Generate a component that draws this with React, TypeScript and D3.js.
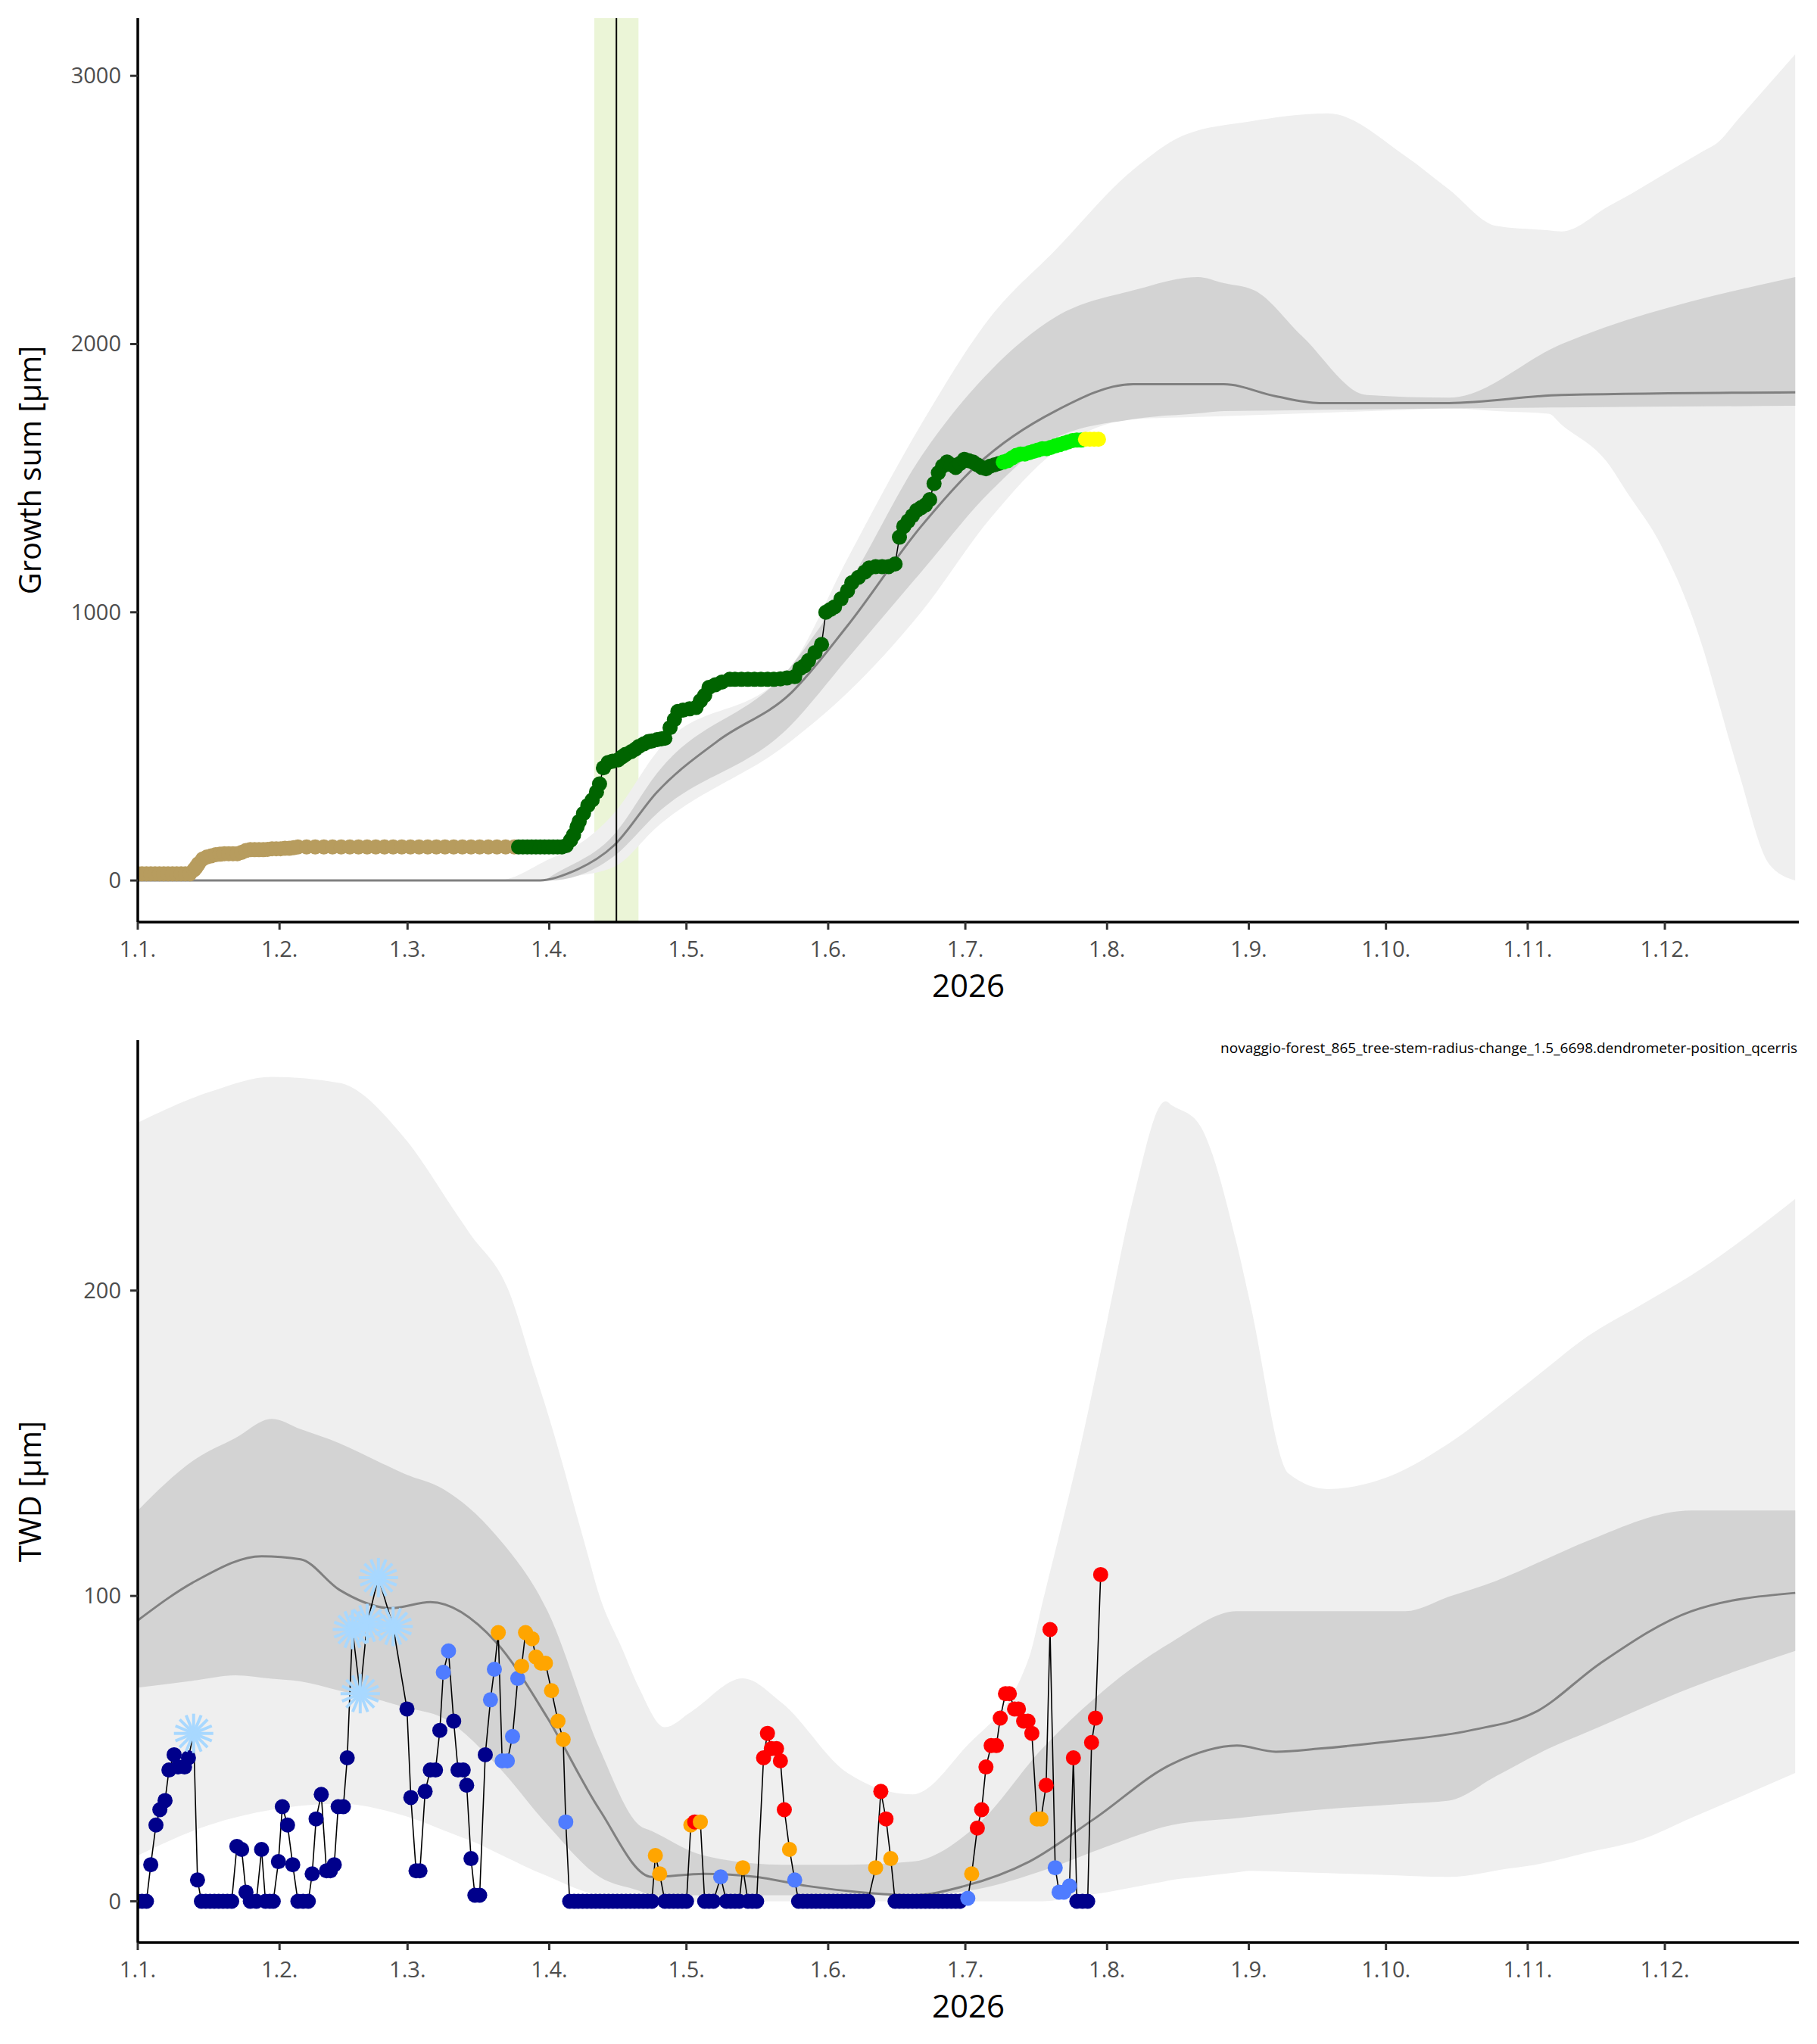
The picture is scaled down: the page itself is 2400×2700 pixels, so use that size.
import React from "react";
import * as d3 from "d3";

const W = 2400, H = 2700;
const monthTicks = [0, 31, 59, 90, 120, 151, 181, 212, 243, 273, 304, 334];
const monthLabels = ["1.1.", "1.2.", "1.3.", "1.4.", "1.5.", "1.6.", "1.7.", "1.8.", "1.9.", "1.10.", "1.11.", "1.12."];
const growthTicks = [0, 1000, 2000, 3000];
const twdTicks = [0, 100, 200];
const yearLabel = "2026";
const subtitle = "novaggio-forest_865_tree-stem-radius-change_1.5_6698.dendrometer-position_qcerris";

// the time values below were read in a unit where 383 units = 362.5 days (1 unit = 0.9465 day)
const UNIT_DAYS = 0.9465;

// growth sum points [t, value]
const growthPoints: [number, number][] = [
  [0,25],[1,25],[2,25],[3,25],[4,25],[5,25],[6,25],[7,25],[8,25],[9,25],[10,25],[11,25],[12,25],[13,40],[13.5,50],[14,62],[15,80],[16,88],[17,92],[18,96],[19,98],[20,100],[21,100],[22,100],[23,100],[24,105],[25,112],[26,115],[27,115],[28,115],[29,115],[30,116],[31,118],[32,118],[33,118],[34,120],[35,120],[36,122],[37,125],
  [39,125],[41,125],[43,125],[45,125],[47,125],[49,125],[51,125],[53,125],[55,125],[57,125],[59,125],[61,125],[63,125],[65,125],[67,125],[69,125],[71,125],[73,125],[75,125],[77,125],[79,125],[81,125],[83,125],[85,125],[87,125],
  [88,125],[89,125],[90,125],[91,125],[92,125],[93,125],[94,125],[95,125],[96,125],[97,125],[98,125],[99,130],[100,150],[100.7,170],[101.5,200],[102,220],[103,250],[104,280],[105,300],[106,330],[106.7,360],[107.6,420],[108.7,440],[109.7,445],[111,450],[112,462],[112.7,470],[114,480],[115,490],[115.8,500],[117,510],[118,518],[118.8,520],[120,525],[121,528],[121.8,530],[123,570],[124,600],[124.8,630],[126,635],[127.5,640],[129,645],[130,670],[131,690],[132,720],[133.5,730],[135,740],[136.8,750],
  [138,750],[139.5,750],[141,750],[142.5,750],[144,750],[145.5,750],[147,750],[148.5,752],[150,755],[151.8,760],[153,790],[154,800],[155,820],[156.5,850],[158,880],[159,1000],[160,1010],[161,1020],[162.5,1050],[164,1080],[165,1110],[166.5,1130],[168,1150],[169,1165],[170.5,1170],[172,1170],[173.5,1170],[175,1180],[176,1280],[177,1320],[178,1340],[179,1360],[180,1380],[181,1390],[182,1400],[183,1420],[184,1480],[185,1520],[186,1545],[187,1560],[188,1550],[189,1540],[190,1555],[191,1570],[192,1565],[193,1560],[194,1550],[195,1540],[196,1535],[197,1545],[198,1550],[199,1555],
  [200,1560],[201,1565],[202,1575],[203,1585],[204,1590],[205,1590],[206,1595],[207,1600],[208,1605],[209,1610],[210,1610],[211,1615],[212,1620],[213,1625],[214,1630],[215,1635],[216,1640],[217,1642],[218,1642],[219,1645],[220,1645],[221,1645],[222,1645]
];
const stageBreaks = [88, 200, 219];
const stageColors = ["#b79c5e", "#006400", "#00f000", "#ffff00"];

const gMedian: [number, number][] = [[0,0],[93,0],[100,30],[110,130],[120,330],[134,520],[151,700],[164,950],[181,1320],[194,1550],[212,1750],[230,1850],[251,1850],[263,1805],[273,1780],[303,1780],[329,1810],[383,1820]];
const gInnerUp: [number, number][] = [[0,0],[94,0],[110,170],[120,400],[151,800],[164,1100],[181,1580],[197,1900],[212,2100],[230,2200],[245,2250],[258,2200],[269,2030],[284,1810],[303,1800],[329,2000],[383,2250]];
const gInnerLo: [number, number][] = [[0,0],[95,0],[110,90],[120,250],[151,580],[181,1150],[197,1450],[212,1650],[230,1720],[251,1750],[303,1760],[383,1770]];
const gOuterUp: [number, number][] = [[0,0],[83,0],[98,100],[110,250],[120,480],[151,800],[164,1200],[181,1700],[197,2100],[212,2350],[230,2650],[242,2780],[257,2830],[275,2860],[293,2700],[314,2440],[329,2420],[344,2550],[365,2750],[383,3080]];
const gOuterLo: [number, number][] = [[0,0],[96,0],[110,50],[120,200],[151,520],[164,700],[181,1000],[197,1350],[212,1600],[230,1720],[303,1760],[326,1740],[340,1550],[352,1250],[362,850],[370,400],[377,60],[383,0]];
const phenoBand = [105.5, 115.7];
const phenoLine = 110.6;

// TWD points [t, value, category] n=navy b=blue o=orange r=red s=frost
const twdPoints: [number, number, string][] = [
  [0,0,"n"],[1,0,"n"],[2,0,"n"],[3,12,"n"],[4.2,25,"n"],[5.1,30,"n"],[6.3,33,"n"],[7.2,43,"n"],[8.4,48,"n"],[9.3,44,"n"],[10.8,44,"n"],[11.7,47,"n"],[12.9,55,"s"],[13.8,7,"n"],
  [22.9,18,"n"],[24,17,"n"],[25,3,"n"],[26,0,"n"],[27.4,0,"n"],[28.6,17,"n"],[29.5,0,"n"],[30.5,0,"n"],[31.3,0,"n"],[32.5,13,"n"],[33.4,31,"n"],[34.6,25,"n"],[35.8,12,"n"],[37,0,"n"],[38.2,0,"n"],[39.4,0,"n"],[40.3,9,"n"],[41.2,27,"n"],[42.4,35,"n"],[43.6,10,"n"],[44.5,10,"n"],[45.4,12,"n"],[46.3,31,"n"],[47.5,31,"n"],[48.4,47,"n"],
  [49.6,89,"s"],[51.4,68,"s"],[53,91,"s"],[55.6,106,"s"],[59,90,"s"],[62.2,63,"n"],[63.1,34,"n"],[64.3,10,"n"],[65.2,10,"n"],[66.4,36,"n"],[67.6,43,"n"],[68.8,43,"n"],[69.8,56,"n"],[70.6,75,"b"],[71.8,82,"b"],[73,59,"n"],[74,43,"n"],[75.2,43,"n"],[76,38,"n"],[77,14,"n"],[77.9,2,"n"],[79,2,"n"],[80.3,48,"n"],[81.5,66,"b"],[82.4,76,"b"],[83.3,88,"o"],[84.2,46,"b"],[85.4,46,"b"],[86.6,54,"b"],[87.8,73,"b"],[88.7,77,"o"],[89.6,88,"o"],[91.1,86,"o"],[92,80,"o"],[93.2,78,"o"],[94.2,78,"o"],[95.6,69,"o"],[97.1,59,"o"],[98.3,53,"o"],[98.9,26,"b"],
  [119.6,15,"o"],[120.6,9,"o"],[127.8,25,"o"],[128.7,26,"r"],[130,26,"o"],[134.7,8,"b"],[139.8,11,"o"],[144.6,47,"r"],[145.5,55,"r"],[146.4,50,"r"],[147.6,50,"r"],[148.5,46,"r"],[149.4,30,"r"],[150.6,17,"o"],[151.8,7,"b"],
  [170.5,11,"o"],[171.7,36,"r"],[172.9,27,"r"],[174,14,"o"],[191.8,1,"b"],[192.7,9,"o"],[194,24,"r"],[195,30,"r"],[196,44,"r"],[197.2,51,"r"],[198.4,51,"r"],[199.3,60,"r"],[200.5,68,"r"],[201.4,68,"r"],[202.6,63,"r"],[203.5,63,"r"],[204.7,59,"r"],[205.7,59,"r"],[206.6,55,"r"],[207.8,27,"o"],[208.7,27,"o"],[209.9,38,"r"],[210.8,89,"r"],[212,11,"b"],[212.9,3,"b"],[214,3,"b"],[215.3,5,"b"],[216.2,47,"r"],[217,0,"n"],[218.3,0,"n"],[219.5,0,"n"],[220.4,52,"r"],[221.3,60,"r"],[222.5,107,"r"]
];
const twdZeroRuns: [number, number][] = [[14.7,21.9],[99.8,118.8],[121.8,126.9],[131,133.8],[136,139],[141,143.7],[152.7,169.6],[175,190.9]];
const catColors: Record<string, string> = { n: "#00008b", b: "#4f7cff", o: "#ffa500", r: "#ff0000", s: "#a8d8ff" };

const tMedian: [number, number][] = [[0,92],[13.5,105],[28.6,113],[37.6,112],[46.6,102],[58.6,96],[67.6,98],[82.7,85],[94.7,60],[106.7,30],[118.8,8],[130.8,9],[142.8,8],[154.8,5],[166.8,3],[179,2],[191,5],[206,13],[221,27],[239,45],[254,51],[263,49],[273,50],[287,52],[308,56],[323,62],[338,78],[359,95],[383,101]];
const tInnerUp: [number, number][] = [[0,128],[13.5,145],[31,158],[46.6,150],[61.6,140],[70.6,135],[82.7,120],[94.7,95],[106.7,50],[115.8,25],[130.8,15],[148.8,12],[164,12],[179,13],[194,25],[209,50],[224,70],[239,85],[254,95],[273,95],[293,95],[314,105],[335,118],[359,128],[383,128]];
const tInnerLo: [number, number][] = [[0,70],[22.5,74],[37.6,72],[55.6,66],[70.6,60],[82.7,45],[94.7,25],[106.7,8],[118.8,2],[179,2],[194,4],[209,10],[224,18],[239,25],[273,30],[303,33],[326,50],[359,70],[383,82]];
const tOuterUp: [number, number][] = [[0,255],[16.5,265],[31,270],[46.6,268],[61.6,250],[73.7,225],[85.7,200],[94.7,160],[106.7,100],[115.8,70],[121.8,57],[127.8,62],[139.8,73],[148.8,65],[164,42],[179,35],[191,50],[206,80],[218,150],[230,230],[237.5,262],[245,255],[254,215],[266,140],[275,135],[287,138],[303,150],[317,165],[335,185],[359,205],[383,230]];
const tOuterLo: [number, number][] = [[0,15],[16.5,25],[31,30],[46.6,32],[61.6,28],[76.7,20],[91.7,10],[103.7,3],[112,0],[209,0],[224,3],[239,7],[257,10],[303,8],[323,12],[347,20],[383,42]];

const L = 182, R = 2376;
const TT = 24, TB = 1218, BT = 1374, BB = 2566;
const xd = d3.scaleLinear().domain([0, 363.3]).range([L, R]); // days
const x = (t: number) => xd(t * UNIT_DAYS);
const yTop = d3.scaleLinear().domain([-155, 3215]).range([TB, TT]);
const yBot = d3.scaleLinear().domain([-13.5, 282]).range([BB, BT]);
const curve = d3.curveMonotoneX;

function band(up: [number, number][], lo: [number, number][], y: d3.ScaleLinear<number, number>) {
  const days = Array.from(new Set([...up.map(d => d[0]), ...lo.map(d => d[0])])).sort((a, b) => a - b);
  const interp = (arr: [number, number][]) => {
    const f = d3.scaleLinear().domain(arr.map(d => d[0])).range(arr.map(d => d[1]));
    return (t: number) => f(t);
  };
  const fu = interp(up), fl = interp(lo);
  return d3.area<number>().x(d => x(d)).y0(d => y(fl(d))).y1(d => y(fu(d))).curve(curve)(days) || "";
}
const line = (pts: [number, number][], y: d3.ScaleLinear<number, number>) =>
  d3.line<[number, number]>().x(d => x(d[0])).y(d => y(d[1])).curve(curve)(pts) || "";

function stageColor(t: number) {
  let i = 0;
  while (i < stageBreaks.length && t >= stageBreaks[i]) i++;
  return stageColors[i];
}

function Snow({ cx, cy }: { cx: number; cy: number }) {
  const r = 26;
  return (
    <g stroke={catColors.s} strokeWidth={4}>
      {[0, 22.5, 45, 67.5, 90, 112.5, 135, 157.5].map(a => {
        const t = (a * Math.PI) / 180;
        return <line key={a} x1={cx - r * Math.cos(t)} y1={cy - r * Math.sin(t)} x2={cx + r * Math.cos(t)} y2={cy + r * Math.sin(t)} />;
      })}
    </g>
  );
}

function XAxis({ yPos }: { yPos: number }) {
  return (
    <g>
      <line x1={L} x2={R} y1={yPos} y2={yPos} stroke="#000" strokeWidth={3.5} />
      {monthTicks.map((d, i) => (
        <g key={i}>
          <line x1={xd(d)} x2={xd(d)} y1={yPos} y2={yPos + 10} stroke="#333" strokeWidth={3} />
          <text x={xd(d)} y={yPos + 46} textAnchor="middle" fontSize={29} fill="#4d4d4d">{monthLabels[i]}</text>
        </g>
      ))}
      <text x={(L + R) / 2} y={yPos + 99} textAnchor="middle" fontSize={42} fill="#000">{yearLabel}</text>
    </g>
  );
}
function YAxis({ ticks, y, top, bottom, title }: { ticks: number[]; y: d3.ScaleLinear<number, number>; top: number; bottom: number; title: string }) {
  return (
    <g>
      <line x1={L} x2={L} y1={top} y2={bottom} stroke="#000" strokeWidth={3.5} />
      {ticks.map(t => (
        <g key={t}>
          <line x1={L - 10} x2={L} y1={y(t)} y2={y(t)} stroke="#333" strokeWidth={3} />
          <text x={L - 22} y={y(t) + 10} textAnchor="end" fontSize={29} fill="#4d4d4d">{t}</text>
        </g>
      ))}
      <text transform={`translate(54,${(top + bottom) / 2}) rotate(-90)`} textAnchor="middle" fontSize={40} fill="#000">{title}</text>
    </g>
  );
}

export default function App() {
  const zeroPts: [number, number, string][] = [];
  twdZeroRuns.forEach(([a, b]) => { for (let d = a; d <= b + 1e-6; d += 1) zeroPts.push([d, 0, "n"]); });
  const twd = [...twdPoints, ...zeroPts].sort((a, b) => a[0] - b[0]);
  const twdLine = d3.line<[number, number, string]>().x(d => x(d[0])).y(d => yBot(d[1]))(twd) || "";
  const gLine = d3.line<[number, number]>().x(d => x(d[0])).y(d => yTop(d[1]))(growthPoints) || "";
  return (
    <svg width={W} height={H} style={{ display: "block", fontFamily: "'Open Sans', 'Noto Sans', sans-serif", margin: -8 }}>
      <rect width={W} height={H} fill="#fff" />
      <defs>
        <clipPath id="ct"><rect x={L} y={TT} width={R - L} height={TB - TT} /></clipPath>
        <clipPath id="cb"><rect x={L} y={BT} width={R - L} height={BB - BT} /></clipPath>
      </defs>
      <g clipPath="url(#ct)">
        <rect x={x(phenoBand[0])} width={x(phenoBand[1]) - x(phenoBand[0])} y={TT} height={TB - TT} fill="#ebf5d7" />
        <path d={band(gOuterUp, gOuterLo, yTop)} fill="#efefef" />
        <path d={band(gInnerUp, gInnerLo, yTop)} fill="#d3d3d3" />
        <path d={line(gMedian, yTop)} fill="none" stroke="#808080" strokeWidth={3} />
        <line x1={x(phenoLine)} x2={x(phenoLine)} y1={TT} y2={TB} stroke="#000" strokeWidth={2} />
        <path d={gLine} fill="none" stroke="#000" strokeWidth={1.5} />
        {growthPoints.map((p, i) => (
          <circle key={i} cx={x(p[0])} cy={yTop(p[1])} r={10} fill={stageColor(p[0])} />
        ))}
      </g>
      <YAxis ticks={growthTicks} y={yTop} top={TT} bottom={TB} title="Growth sum [µm]" />
      <XAxis yPos={TB} />
      <g clipPath="url(#cb)">
        <path d={band(tOuterUp, tOuterLo, yBot)} fill="#efefef" />
        <path d={band(tInnerUp, tInnerLo, yBot)} fill="#d3d3d3" />
        <path d={line(tMedian, yBot)} fill="none" stroke="#808080" strokeWidth={3} />
        <path d={twdLine} fill="none" stroke="#000" strokeWidth={1.6} />
        {twd.map((p, i) =>
          p[2] === "s" ? <Snow key={i} cx={x(p[0])} cy={yBot(p[1])} /> :
            <circle key={i} cx={x(p[0])} cy={yBot(p[1])} r={10} fill={catColors[p[2]]} />
        )}
      </g>
      <text x={R - 2} y={1391} textAnchor="end" fontSize={19} fill="#000">{subtitle}</text>
      <YAxis ticks={twdTicks} y={yBot} top={BT} bottom={BB} title="TWD [µm]" />
      <XAxis yPos={BB} />
    </svg>
  );
}
